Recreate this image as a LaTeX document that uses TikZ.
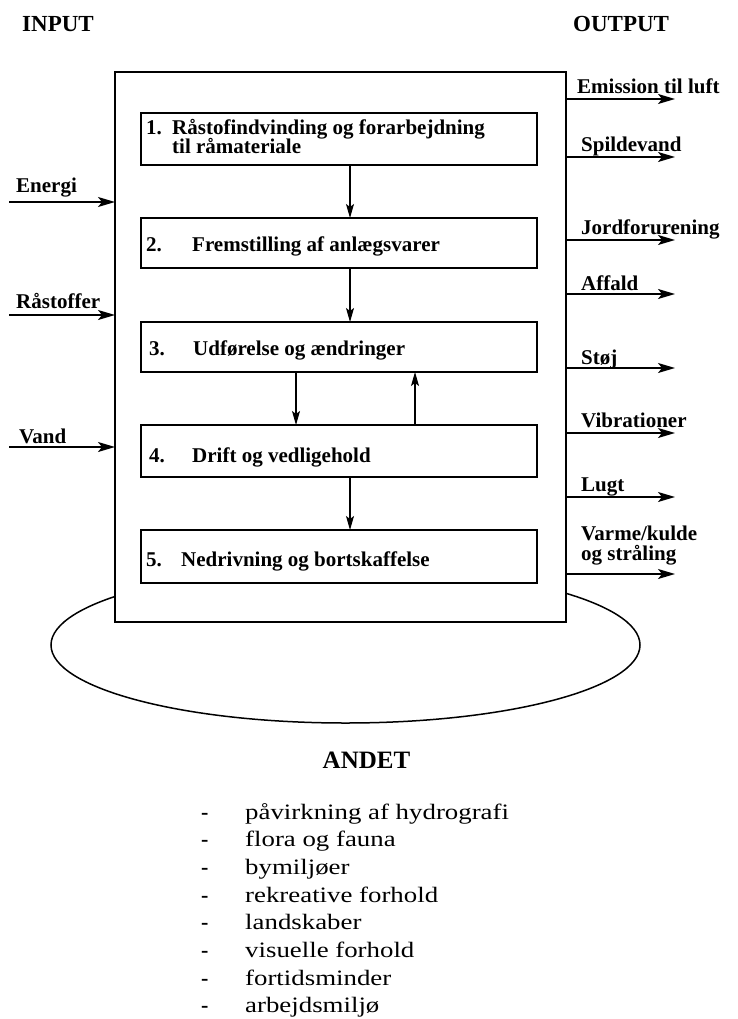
\documentclass[tikz,border=0pt]{standalone}
\usepackage{fontspec}
\setmainfont{Liberation Serif}
\newfontfamily\listfont[FakeStretch=1.22]{Liberation Serif}
\usetikzlibrary{arrows.meta}
\tikzset{
  frame/.style={draw, line width=1.8pt, inner sep=0pt, outer sep=0pt},
  flow/.style={-{Stealth[length=17pt,width=10pt,inset=4pt]}, line width=1.6pt},
  innerflow/.style={-{Stealth[length=14pt,width=8pt,inset=3pt]}, line width=1.1pt},
  lab/.style={anchor=base west, inner sep=0pt, font=\bfseries\fontsize{21}{20}\selectfont},
  head/.style={anchor=base west, inner sep=0pt, font=\bfseries\fontsize{23}{24}\selectfont},
  item/.style={anchor=base west, inner sep=0pt, font=\listfont\fontsize{22}{24}\selectfont},
  dashmark/.style={anchor=base west, inner sep=0pt, font=\bfseries\fontsize{22}{24}\selectfont},
}
\begin{document}
\begin{tikzpicture}[x=1pt,y=-1pt]
\useasboundingbox (0,0) rectangle (738,1019);
\fill[white] (0,0) rectangle (738,1019);

% ellipse behind the main frame
\draw[line width=1.5pt] (345.5,645) ellipse [x radius=294.5pt, y radius=78pt];

% main frame
\node[frame, fill=white, minimum width=451pt, minimum height=550pt] (outer) at (340.5,347) {};

% headings
\node[head] (input) at (22,32) {INPUT};
\node[head] (output) at (573,32) {OUTPUT};

% phase boxes
\node[frame, minimum width=396pt, minimum height=52pt] (b1) at (339,139) {};
\node[frame, minimum width=396pt, minimum height=50pt] (b2) at (339,243) {};
\node[frame, minimum width=396pt, minimum height=50pt] (b3) at (339,347) {};
\node[frame, minimum width=396pt, minimum height=52pt] (b4) at (339,451) {};
\node[frame, minimum width=396pt, minimum height=53pt] (b5) at (339,556.5) {};

\node[lab] (n1) at (146,135) {1.};
\node[lab] (t1a) at (172,135) {Råstofindvinding og forarbejdning};
\node[lab] (t1b) at (172,154) {til råmateriale};
\node[lab] (n2) at (146,251) {2.};
\node[lab] (t2) at (192,251) {Fremstilling af anlægsvarer};
\node[lab] (n3) at (149,355) {3.};
\node[lab] (t3) at (193,355) {Udførelse og ændringer};
\node[lab] (n4) at (149,462) {4.};
\node[lab] (t4) at (192,462) {Drift og vedligehold};
\node[lab] (n5) at (146,566) {5.};
\node[lab] (t5) at (181,566) {Nedrivning og bortskaffelse};

% arrows between phases
\draw[innerflow] ([xshift=11pt]b1.south) -- ([xshift=11pt]b2.north);
\draw[innerflow] ([xshift=11pt]b2.south) -- ([xshift=11pt]b3.north);
\draw[innerflow] ([xshift=-43pt]b3.south) -- ([xshift=-43pt]b4.north);
\draw[innerflow] ([xshift=76pt]b4.north) -- ([xshift=76pt]b3.south);
\draw[innerflow] ([xshift=11pt]b4.south) -- ([xshift=11pt]b5.north);

% inputs
\coordinate (i1) at (9,202);
\coordinate (i2) at (9,315);
\coordinate (i3) at (9,447);
\draw[flow] (i1) -- (i1 -| outer.west);
\draw[flow] (i2) -- (i2 -| outer.west);
\draw[flow] (i3) -- (i3 -| outer.west);
\node[lab] (lenergi) at (16,193) {Energi};
\node[lab] (lraa) at (16,308) {Råstoffer};
\node[lab] (lvand) at (19,443) {Vand};

% outputs
\coordinate (o1) at (675,99);
\coordinate (o2) at (675,157);
\coordinate (o3) at (675,240);
\coordinate (o4) at (675,294);
\coordinate (o5) at (675,368);
\coordinate (o6) at (675,433);
\coordinate (o7) at (675,497);
\coordinate (o8) at (675,574);
\foreach \k in {1,...,8} \draw[flow] (outer.east |- o\k) -- (o\k);
\node[lab] (le) at (577,94) {Emission til luft};
\node[lab] (ls) at (581,152) {Spildevand};
\node[lab] (lj) at (581,234) {Jordforurening};
\node[lab] (la) at (581,290) {Affald};
\node[lab] (lst) at (581,364) {Støj};
\node[lab] (lv) at (581,427) {Vibrationer};
\node[lab] (ll) at (581,491) {Lugt};
\node[lab] (lva) at (581,540) {Varme/kulde};
\node[lab] (lvb) at (581,560) {og stråling};

% ANDET
\node[anchor=base, inner sep=0pt, font=\bfseries\fontsize{25}{28}\selectfont] (andet) at (366.5,768) {ANDET};
\foreach \t [count=\i] in {påvirkning af hydrografi, flora og fauna, bymiljøer, rekreative forhold, landskaber, visuelle forhold, fortidsminder, arbejdsmiljø}{
  \node[item] (it\i) at (245,{819+27.7*(\i-1)}) {\t};
  \node[dashmark] (d\i) at (201,{819+27.7*(\i-1)}) {-};
}
\end{tikzpicture}
\end{document}
